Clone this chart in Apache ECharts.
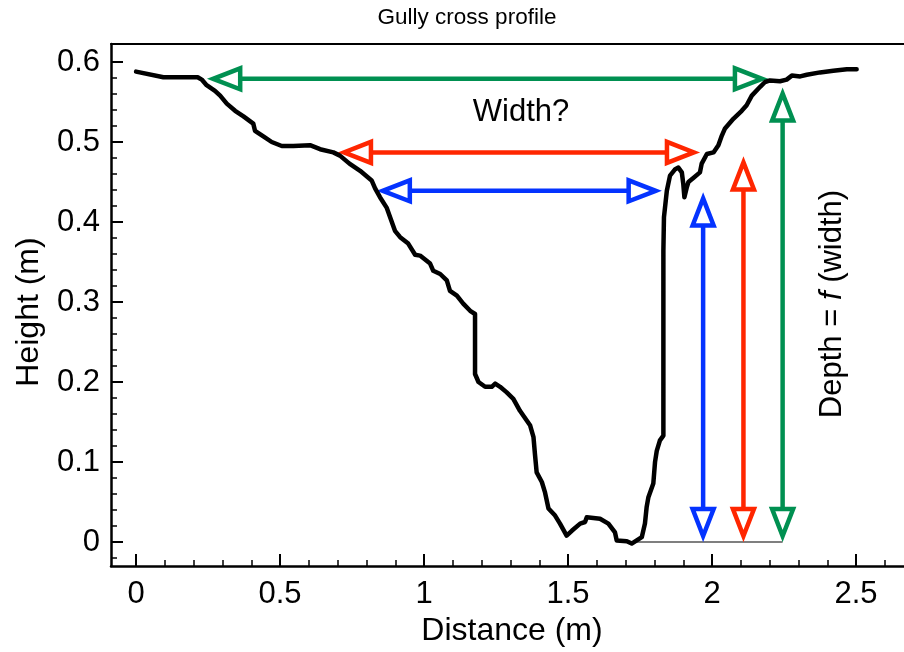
<!DOCTYPE html>
<html>
<head>
<meta charset="utf-8">
<script src="https://cdn.jsdelivr.net/npm/echarts@6/dist/echarts.min.js"></script>
<style>html,body{margin:0;padding:0;background:#fff;}#c{width:904px;height:652px;}</style>
</head>
<body>
<div id="c"></div>
<script>
// ---- data ----
const profileX = [0.000,0.095,0.214,0.228,0.245,0.274,0.292,0.315,0.344,0.373,0.407,0.413,0.442,0.471,0.506,0.546,0.604,0.639,0.685,0.708,0.741,0.778,0.818,0.830,0.847,0.870,0.899,0.917,0.945,0.969,0.986,1.021,1.032,1.056,1.079,1.090,1.114,1.136,1.160,1.177,1.177,1.189,1.212,1.235,1.247,1.264,1.287,1.310,1.333,1.368,1.380,1.385,1.391,1.409,1.420,1.432,1.455,1.472,1.495,1.513,1.542,1.559,1.565,1.588,1.611,1.640,1.663,1.669,1.704,1.721,1.756,1.767,1.773,1.779,1.796,1.802,1.808,1.819,1.831,1.831,1.831,1.833,1.843,1.854,1.872,1.883,1.895,1.900,1.904,1.912,1.918,1.935,1.958,1.964,1.982,2.005,2.022,2.034,2.045,2.074,2.103,2.120,2.138,2.167,2.184,2.201,2.236,2.259,2.277,2.306,2.329,2.375,2.421,2.468,2.502];
const profileY = [0.588,0.581,0.581,0.578,0.571,0.564,0.558,0.548,0.539,0.532,0.523,0.514,0.507,0.500,0.495,0.495,0.496,0.491,0.487,0.483,0.473,0.464,0.452,0.442,0.431,0.418,0.389,0.381,0.373,0.359,0.358,0.348,0.339,0.335,0.327,0.314,0.308,0.298,0.289,0.285,0.210,0.200,0.194,0.194,0.198,0.194,0.187,0.179,0.164,0.146,0.131,0.110,0.087,0.075,0.062,0.042,0.033,0.023,0.008,0.014,0.023,0.025,0.031,0.030,0.029,0.023,0.012,0.002,0.001,-0.002,0.006,0.023,0.044,0.056,0.073,0.100,0.114,0.127,0.133,0.177,0.364,0.406,0.439,0.458,0.466,0.468,0.462,0.448,0.431,0.443,0.450,0.455,0.462,0.473,0.485,0.487,0.496,0.508,0.517,0.529,0.539,0.546,0.558,0.569,0.575,0.577,0.576,0.578,0.583,0.582,0.584,0.587,0.589,0.591,0.591];

const arrowColors = ['#009051', '#FF2600', '#0433FF']; // green, red, blue
const widthArrowY = [0.579, 0.487, 0.439];
const widthArrowLeft = [0.247, 0.701, 0.836];
const widthArrowRight = [2.194, 1.958, 1.825];
const depthArrowX = [2.245, 2.109, 1.969];
const depthArrowBottom = [0, 0, 0];
const depthArrowTop = [0.568, 0.482, 0.437];
const baseLineX = [1.72, 2.245];
const baseLineY = [0, 0];

const xMajorTicks = [0, 0.5, 1, 1.5, 2, 2.5];
const xTickLabels = ['0', '0.5', '1', '1.5', '2', '2.5'];
const xMinorTicks = [0.1,0.2,0.3,0.4,0.6,0.7,0.8,0.9,1.1,1.2,1.3,1.4,1.6,1.7,1.8,1.9,2.1,2.2,2.3,2.4,2.6];
const yMajorTicks = [0, 0.1, 0.2, 0.3, 0.4, 0.5, 0.6];
const yTickLabels = ['0', '0.1', '0.2', '0.3', '0.4', '0.5', '0.6'];
const yMinorTicks = [-0.02,0.02,0.04,0.06,0.08,0.12,0.14,0.16,0.18,0.22,0.24,0.26,0.28,0.32,0.34,0.36,0.38,0.42,0.44,0.46,0.48,0.52,0.54,0.56,0.58];

// ---- build ----
const FONT = '"Liberation Sans", Arial, Helvetica, sans-serif';
const profile = profileX.map((x, i) => [x, profileY[i]]);
const arrowData = [];
for (let i = 0; i < 3; i++) arrowData.push([widthArrowLeft[i], widthArrowY[i], widthArrowRight[i], widthArrowY[i], i]);
for (let i = 0; i < 3; i++) arrowData.push([depthArrowX[i], depthArrowBottom[i], depthArrowX[i], depthArrowTop[i], i]);

const XMIN = -0.087, XMAX = -0.087 + 793 / 288, YMIN = -0.03, YMAX = 0.6225;

function fmtX(v) { const i = xMajorTicks.findIndex(t => Math.abs(t - v) < 1e-9); return i >= 0 ? xTickLabels[i] : ''; }
function fmtY(v) { const i = yMajorTicks.findIndex(t => Math.abs(t - v) < 1e-9); return i >= 0 ? yTickLabels[i] : ''; }

const chart = echarts.init(document.getElementById('c'), null, {renderer: 'canvas'});
const option = {
  backgroundColor: '#fff',
  animation: false,
  grid: {left: 111, top: 44, width: 793, height: 522, containLabel: false},
  xAxis: [
    {type: 'value', position: 'bottom', min: XMIN, max: XMAX,
     axisLine: {show: true, onZero: false, lineStyle: {color: '#000', width: 2.5}},
     axisTick: {show: true, inside: true, length: 12, customValues: xMajorTicks, lineStyle: {color: '#000', width: 2}},
     axisLabel: {show: true, customValues: xMajorTicks, formatter: fmtX, margin: 13, color: '#000', fontSize: 31, fontFamily: FONT},
     splitLine: {show: false}},
    {type: 'value', position: 'bottom', min: XMIN, max: XMAX,
     axisLine: {show: false, onZero: false},
     axisTick: {show: true, inside: true, length: 6, customValues: xMinorTicks, lineStyle: {color: '#000', width: 1.5}},
     axisLabel: {show: false}, splitLine: {show: false}},
    {type: 'value', position: 'top', min: XMIN, max: XMAX,
     axisLine: {show: true, onZero: false, lineStyle: {color: '#000', width: 2}},
     axisTick: {show: false}, axisLabel: {show: false}, splitLine: {show: false}}
  ],
  yAxis: [
    {type: 'value', position: 'left', min: YMIN, max: YMAX,
     axisLine: {show: true, onZero: false, lineStyle: {color: '#000', width: 2.5}},
     axisTick: {show: true, inside: true, length: 12, customValues: yMajorTicks, lineStyle: {color: '#000', width: 2}},
     axisLabel: {show: true, customValues: yMajorTicks, formatter: fmtY, margin: 11, color: '#000', fontSize: 31, fontFamily: FONT},
     splitLine: {show: false}},
    {type: 'value', position: 'left', min: YMIN, max: YMAX,
     axisLine: {show: false, onZero: false},
     axisTick: {show: true, inside: true, length: 6, customValues: yMinorTicks, lineStyle: {color: '#000', width: 1.5}},
     axisLabel: {show: false}, splitLine: {show: false}}
  ],
  series: [
    {type: 'line', xAxisIndex: 0, yAxisIndex: 0, data: baseLineX.map((x, i) => [x, baseLineY[i]]),
     symbol: 'none', lineStyle: {color: '#555', width: 1.5}, z: 1, silent: true},
    {type: 'custom', xAxisIndex: 0, yAxisIndex: 0, data: arrowData, z: 2, silent: true,
     renderItem: function (params, api) {
       const p1 = api.coord([api.value(0), api.value(1)]);
       const p2 = api.coord([api.value(2), api.value(3)]);
       const color = arrowColors[api.value(4)];
       const dx = p2[0] - p1[0], dy = p2[1] - p1[1];
       const len = Math.hypot(dx, dy);
       const ux = dx / len, uy = dy / len, nx = -uy, ny = ux;
       const L = 27, W = 10.5, inset = 6, lw = 4.5;
       const t1 = [p1[0] + ux * inset, p1[1] + uy * inset];
       const b1 = [t1[0] + ux * L, t1[1] + uy * L];
       const t2 = [p2[0] - ux * inset, p2[1] - uy * inset];
       const b2 = [t2[0] - ux * L, t2[1] - uy * L];
       const st = {fill: '#fff', stroke: color, lineWidth: lw, lineJoin: 'miter'};
       return {type: 'group', children: [
         {type: 'line', shape: {x1: b1[0], y1: b1[1], x2: b2[0], y2: b2[1]}, style: {stroke: color, lineWidth: lw}},
         {type: 'polygon', shape: {points: [t1, [b1[0] + nx * W, b1[1] + ny * W], [b1[0] - nx * W, b1[1] - ny * W]]}, style: st},
         {type: 'polygon', shape: {points: [t2, [b2[0] + nx * W, b2[1] + ny * W], [b2[0] - nx * W, b2[1] - ny * W]]}, style: st}
       ]};
     }},
    {type: 'line', xAxisIndex: 0, yAxisIndex: 0, data: profile, symbol: 'none', z: 3, silent: true,
     lineStyle: {color: '#000', width: 4.5, join: 'round', cap: 'round'}}
  ],
  graphic: [
    {type: 'text', x: 467, y: 18, style: {text: 'Gully cross profile', fill: '#000', font: '22.5px ' + FONT, align: 'center', verticalAlign: 'middle'}},
    {type: 'text', x: 512, y: 631, style: {text: 'Distance (m)', fill: '#000', font: '32px ' + FONT, align: 'center', verticalAlign: 'middle'}},
    {type: 'text', x: 29, y: 312, rotation: Math.PI / 2, style: {text: 'Height (m)', fill: '#000', font: '32px ' + FONT, align: 'center', verticalAlign: 'middle'}},
    {type: 'text', x: 521, y: 112, style: {text: 'Width?', fill: '#000', font: '31px ' + FONT, align: 'center', verticalAlign: 'middle'}},
    {type: 'text', x: 832, y: 304, rotation: Math.PI / 2, style: {
      text: '{a|Depth = }{b|f}{a| (width)}', align: 'center', verticalAlign: 'middle',
      rich: {a: {fill: '#000', fontSize: 31, fontFamily: FONT}, b: {fill: '#000', fontSize: 31, fontFamily: FONT, fontStyle: 'italic'}}}}
  ]
};
chart.setOption(option);
</script>
</body>
</html>
